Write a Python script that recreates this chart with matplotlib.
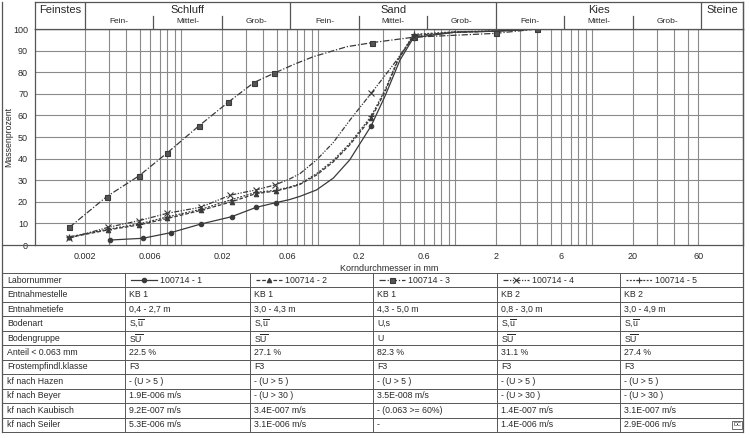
import numpy as np
import matplotlib
matplotlib.use("Agg")
import matplotlib.pyplot as plt
from matplotlib.lines import Line2D

plt.rcParams['font.family'] = ['Liberation Sans', 'DejaVu Sans']
plt.rcParams['mathtext.fontset'] = 'custom'
plt.rcParams['mathtext.rm'] = 'Liberation Sans'
plt.rcParams['mathtext.it'] = 'Liberation Sans'

# ---------------- data ----------------
s1_d = [0.00304, 0.00528, 0.00844, 0.014, 0.0235, 0.0354, 0.0494, 0.062, 0.074, 0.098, 0.13, 0.171, 0.245, 0.31, 0.398, 0.5, 1.0, 2.0, 4.0]
s1_p = [2.3, 3.1, 5.7, 9.7, 13.1, 17.4, 19.6, 21.0, 22.5, 25.5, 31.0, 39.4, 55.1, 69.0, 85.6, 96.0, 98.5, 99.0, 100.0]
s1_m = [0, 1, 2, 3, 4, 5, 6, 12, 15]

s2_d = [0.00154, 0.00296, 0.00498, 0.008, 0.014, 0.0235, 0.0354, 0.0494, 0.062, 0.074, 0.098, 0.13, 0.171, 0.245, 0.31, 0.385, 0.5, 1.0, 2.0, 4.0]
s2_p = [3.5, 7.0, 9.3, 12.3, 16.0, 20.0, 23.8, 25.0, 26.5, 28.0, 32.4, 38.5, 46.3, 58.6, 71.0, 85.6, 97.0, 98.5, 99.0, 100.0]
s2_m = [0, 1, 2, 3, 4, 5, 6, 7, 13, 16]

s3_d = [0.00154, 0.00288, 0.00498, 0.00798, 0.0136, 0.0222, 0.0342, 0.0479, 0.068, 0.093, 0.163, 0.25, 0.5, 2.0, 4.0]
s3_p = [8.2, 22.4, 32.1, 42.7, 55.2, 66.1, 75.2, 79.5, 83.8, 87.2, 91.8, 93.7, 96.2, 98.0, 100.0]
s3_m = [0, 1, 2, 3, 4, 5, 6, 7, 11, 12, 13, 14]

s4_d = [0.00154, 0.00296, 0.00498, 0.008, 0.014, 0.023, 0.0354, 0.0486, 0.062, 0.074, 0.098, 0.13, 0.172, 0.245, 0.31, 0.377, 0.5, 1.0, 2.0, 4.0]
s4_p = [3.2, 8.2, 11.3, 14.7, 17.5, 23.1, 25.5, 27.8, 30.5, 33.0, 39.4, 47.5, 57.9, 70.2, 78.5, 85.6, 96.5, 98.5, 99.0, 100.0]
s4_m = [0, 1, 2, 3, 4, 5, 6, 7, 13, 16]

s5_d = [0.00154, 0.00296, 0.00498, 0.008, 0.014, 0.0235, 0.0354, 0.0494, 0.062, 0.074, 0.098, 0.13, 0.171, 0.245, 0.31, 0.385, 0.5, 1.0, 2.0, 4.0]
s5_p = [3.8, 7.3, 9.8, 13.0, 16.5, 21.0, 24.4, 25.3, 26.8, 28.3, 33.0, 39.2, 47.0, 59.5, 71.8, 86.0, 97.5, 98.7, 99.2, 100.0]
s5_m = [0, 1, 2, 3, 4, 5, 6, 7, 13, 16]

x_ticks = [0.002, 0.006, 0.02, 0.06, 0.2, 0.6, 2, 6, 20, 60]
x_ticklabels = ["0.002", "0.006", "0.02", "0.06", "0.2", "0.6", "2", "6", "20", "60"]
y_ticks = [0, 10, 20, 30, 40, 50, 60, 70, 80, 90, 100]

main_bounds = [0.002, 0.063, 2.0, 63.0]
sub_bounds = [0.0063, 0.02, 0.2, 0.63, 6.3, 20.0]
main_names = ["Feinstes", "Schluff", "Sand", "Kies", "Steine"]
main_centers = [0.00131, 0.0112, 0.355, 11.2, 90.0]
sub_names = ["Fein-", "Mittel-", "Grob-"]
sub_centers = [0.00355, 0.0112, 0.0355, 0.112, 0.355, 1.12, 3.55, 11.2, 35.5]

row_labels = ["Labornummer", "Entnahmestelle", "Entnahmetiefe", "Bodenart", "Bodengruppe",
              "Anteil < 0.063 mm", "Frostempfindl.klasse", "kf nach Hazen", "kf nach Beyer",
              "kf nach Kaubisch", "kf nach Seiler"]
samples = ["100714 - 1", "100714 - 2", "100714 - 3", "100714 - 4", "100714 - 5"]
stelle = ["KB 1", "KB 1", "KB 1", "KB 2", "KB 2"]
tiefe = ["0,4 - 2,7 m", "3,0 - 4,3 m", "4,3 - 5,0 m", "0,8 - 3,0 m", "3,0 - 4,9 m"]
SU_ = r"S,$\overline{\mathrm{u}}$"
SUG = r"S$\overline{\mathrm{U}}$"
bodenart = [SU_, SU_, "U,s", SU_, SU_]
bodengruppe = [SUG, SUG, "U", SUG, SUG]
anteil = ["22.5 %", "27.1 %", "82.3 %", "31.1 %", "27.4 %"]
frost = ["F3", "F3", "F3", "F3", "F3"]
hazen = ["- (U > 5 )"] * 5
beyer = ["1.9E-006 m/s", "- (U > 30 )", "3.5E-008 m/s", "- (U > 30 )", "- (U > 30 )"]
kaubisch = ["9.2E-007 m/s", "3.4E-007 m/s", "- (0.063 >= 60%)", "1.4E-007 m/s", "3.1E-007 m/s"]
seiler = ["5.3E-006 m/s", "3.1E-006 m/s", "-", "1.4E-006 m/s", "2.9E-006 m/s"]

# ---------------- styles ----------------
W, H = 750, 438
LC = '#3a3a3a'
GC = '#8a8a8a'
TC = '#2a2a2a'
series = [
    (s1_d, s1_p, s1_m, dict(marker='o', ms=3.2, ls='-', mfc=LC)),
    (s2_d, s2_p, s2_m, dict(marker='^', ms=3.2, ls=(0, (3, 1.5)), mfc=LC)),
    (s3_d, s3_p, s3_m, dict(marker='s', ms=3.6, ls=(0, (5, 1.5, 1, 1.5)), mfc='#555555')),
    (s4_d, s4_p, s4_m, dict(marker='x', ms=4.0, ls=(0, (4, 1.2, 1, 1.2, 1, 1.2)), mfc=LC)),
    (s5_d, s5_p, s5_m, dict(marker='+', ms=4.5, ls=(0, (1.5, 1.2)), mfc=LC)),
]

fig = plt.figure(figsize=(W / 100, H / 100), dpi=100)
fig.patch.set_facecolor('white')

XL, XR = 35, 743
YT, YB = 29, 245
xlim = (0.000863, 127.0)

def fr(x0, y0, x1, y1):
    return [x0 / W, 1 - y1 / H, (x1 - x0) / W, (y1 - y0) / H]

ax = fig.add_axes(fr(XL, YT, XR, YB))
ax.set_xscale('log')
ax.set_xlim(*xlim)
ax.set_ylim(0, 100)

# grid lines
grid_x = [k * 10.0 ** e for e in range(-3, 2) for k in range(1, 10)]
grid_x = [g for g in grid_x if 0.0019 < g < 61]
for g in grid_x:
    ax.axvline(g, color=GC, lw=0.8, zorder=1)
for yv in y_ticks[1:]:
    ax.axhline(yv, color=GC, lw=0.8, zorder=1)

for d, p, m, st in series:
    ax.plot(d, p, color=LC, lw=0.9, ls=st['ls'], marker=st['marker'], ms=st['ms'],
            mfc=st['mfc'], mec=LC, mew=0.8, markevery=m, zorder=3)

ax.set_xticks(x_ticks)
ax.set_xticklabels(x_ticklabels)
ax.xaxis.set_minor_locator(matplotlib.ticker.NullLocator())
ax.set_yticks(y_ticks)
ax.tick_params(axis='both', length=0, labelsize=6.5, colors=TC)
ax.tick_params(axis='x', pad=5)
ax.tick_params(axis='y', pad=5)
ax.set_xlabel("Korndurchmesser in mm", fontsize=6.5, color=TC, labelpad=2)
for sp in ax.spines.values():
    sp.set_color('#555555')
    sp.set_linewidth(0.9)

# header
hx = fig.add_axes(fr(XL, 2, XR, YT))
hx.set_xscale('log')
hx.set_xlim(*xlim)
hx.set_ylim(0, 1)
hx.set_xticks([]); hx.set_yticks([])
hx.xaxis.set_minor_locator(matplotlib.ticker.NullLocator())
for sp in hx.spines.values():
    sp.set_color('#555555')
    sp.set_linewidth(0.9)
for b in main_bounds:
    hx.axvline(b, color='#555555', lw=0.9)
for b in sub_bounds:
    hx.axvline(b, ymin=0, ymax=0.5, color='#555555', lw=0.9)
for name, c in zip(main_names, main_centers):
    hx.text(c, 0.72, name, ha='center', va='center', fontsize=8, color=TC)
for i, c in enumerate(sub_centers):
    hx.text(c, 0.27, sub_names[i % 3], ha='center', va='center', fontsize=6, color=TC)

# overlay for frame and table
ov = fig.add_axes([0, 0, 1, 1])
ov.set_xlim(0, W); ov.set_ylim(H, 0)
ov.axis('off')
ov.patch.set_visible(False)
FC = '#555555'
ov.plot([2, 2], [2, 432], color=FC, lw=0.9)
ov.plot([2, XL], [YB, YB], color=FC, lw=0.9)
ov.plot([XR, XR], [2, 432], color=FC, lw=0.9)
ov.text(9, 137, "Massenprozent", rotation=90, ha='center', va='center', fontsize=6.3, color=TC)

T0, T1 = 273, 432
rh = (T1 - T0) / 11
cols = [2, 125, 250, 373, 497, 620, 743]
for i in range(12):
    yy = T0 + i * rh
    ov.plot([2, 743], [yy, yy], color=FC, lw=0.7)
for c in cols:
    ov.plot([c, c], [T0, T1], color=FC, lw=0.7)

rows = [None, stelle, tiefe, bodenart, bodengruppe, anteil, frost, hazen, beyer, kaubisch, seiler]
for i, lab in enumerate(row_labels):
    yc = T0 + (i + 0.5) * rh
    ov.text(cols[0] + 5, yc, lab, ha='left', va='center', fontsize=6.3, color=TC)
    for j in range(5):
        x0 = cols[j + 1]
        if i == 0:
            st = series[j][3]
            ov.add_line(Line2D([x0 + 6, x0 + 32], [yc, yc], color=LC, lw=0.9, ls=st['ls']))
            ov.plot([x0 + 19], [yc], marker=st['marker'], ms=st['ms'], mfc=st['mfc'],
                    mec=LC, mew=0.8, color=LC)
            ov.text(x0 + 35, yc, samples[j], ha='left', va='center', fontsize=6.3, color=TC)
        else:
            ov.text(x0 + 4, yc, rows[i][j], ha='left', va='center', fontsize=6.3, color=TC)

ov.text(737, T1 - rh / 2, "DC", ha='center', va='center', fontsize=4, color=TC,
        bbox=dict(boxstyle='square,pad=0.25', fc='white', ec=FC, lw=0.6))

fig.savefig("out.png", dpi=100)
